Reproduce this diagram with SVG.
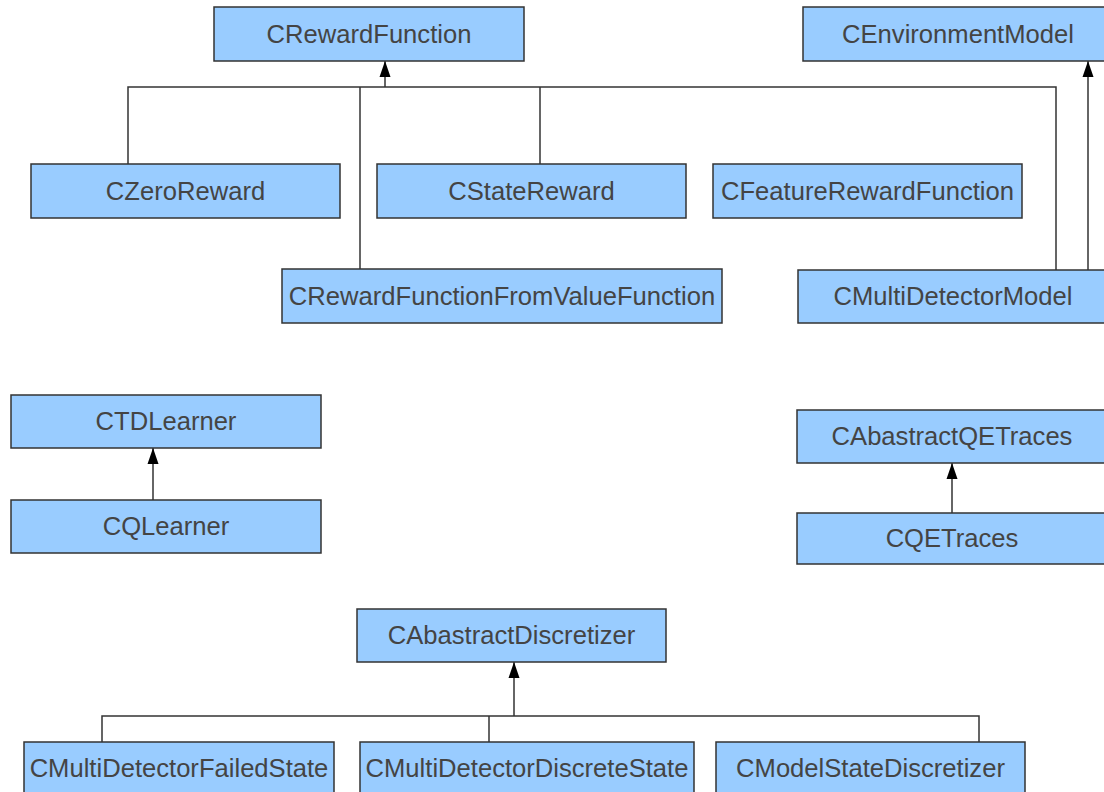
<svg xmlns="http://www.w3.org/2000/svg" width="1104" height="792" viewBox="0 0 1104 792">
  <style>
    .node rect { fill: #99ccff; stroke: #333333; stroke-width: 1.5; }
    .node text { font-family: "Liberation Sans", Arial, sans-serif; font-size: 25.6px; fill: #444444; text-anchor: middle; }
    .edge { fill: none; stroke: #333333; stroke-width: 1.5; }
    .inherit { marker-end: url(#arrow); }
  </style>
  <defs>
    <marker id="arrow" markerUnits="userSpaceOnUse" markerWidth="18" markerHeight="14" viewBox="0 -7 18 14" refX="16" refY="0" orient="auto">
      <path d="M0,-5.5 L16,0 L0,5.5 Z" fill="#000000"/>
    </marker>
  </defs>

  <rect width="1104" height="792" fill="#ffffff"/>

  <!-- inheritance connectors -->
  <g id="connectors">
    <!-- CRewardFunction subclasses -->
    <path class="edge" d="M128,164 V87 H1056 V270"/>
    <path class="edge" d="M360,269 V87"/>
    <path class="edge" d="M540,164 V87"/>
    <path class="edge inherit" d="M385,87 V61"/>
    <!-- CEnvironmentModel -->
    <path class="edge inherit" d="M1088,270 V61"/>
    <!-- CTDLearner -->
    <path class="edge inherit" d="M153,500 V448"/>
    <!-- CAbastractQETraces -->
    <path class="edge inherit" d="M952,513 V463"/>
    <!-- CAbastractDiscretizer subclasses -->
    <path class="edge" d="M102,742 V716 H979 V742"/>
    <path class="edge" d="M489,742 V716"/>
    <path class="edge inherit" d="M514,716 V662"/>
  </g>

  <g id="CRewardFunction" class="node">
    <rect x="214" y="7" width="310" height="54"/>
    <text x="369" y="43">CRewardFunction</text>
  </g>
  <g id="CEnvironmentModel" class="node">
    <rect x="803" y="7" width="310" height="54"/>
    <text x="958" y="43">CEnvironmentModel</text>
  </g>
  <g id="CZeroReward" class="node">
    <rect x="31" y="164" width="309" height="54"/>
    <text x="185.5" y="200">CZeroReward</text>
  </g>
  <g id="CStateReward" class="node">
    <rect x="377" y="164" width="309" height="54"/>
    <text x="531.5" y="200">CStateReward</text>
  </g>
  <g id="CFeatureRewardFunction" class="node">
    <rect x="713" y="164" width="309" height="54"/>
    <text x="867.5" y="200">CFeatureRewardFunction</text>
  </g>
  <g id="CRewardFunctionFromValueFunction" class="node">
    <rect x="282" y="269" width="440" height="54"/>
    <text x="502" y="305">CRewardFunctionFromValueFunction</text>
  </g>
  <g id="CMultiDetectorModel" class="node">
    <rect x="798" y="270" width="310" height="53"/>
    <text x="953" y="305">CMultiDetectorModel</text>
  </g>
  <g id="CTDLearner" class="node">
    <rect x="11" y="395" width="310" height="53"/>
    <text x="166" y="430">CTDLearner</text>
  </g>
  <g id="CQLearner" class="node">
    <rect x="11" y="500" width="310" height="53"/>
    <text x="166" y="535">CQLearner</text>
  </g>
  <g id="CAbastractQETraces" class="node">
    <rect x="797" y="410" width="310" height="53"/>
    <text x="952" y="445">CAbastractQETraces</text>
  </g>
  <g id="CQETraces" class="node">
    <rect x="797" y="513" width="310" height="51"/>
    <text x="952" y="547">CQETraces</text>
  </g>
  <g id="CAbastractDiscretizer" class="node">
    <rect x="357" y="609" width="309" height="53"/>
    <text x="511.5" y="644">CAbastractDiscretizer</text>
  </g>
  <g id="CMultiDetectorFailedState" class="node">
    <rect x="24" y="742" width="310" height="54"/>
    <text x="179" y="777">CMultiDetectorFailedState</text>
  </g>
  <g id="CMultiDetectorDiscreteState" class="node">
    <rect x="360" y="742" width="334" height="54"/>
    <text x="527" y="777">CMultiDetectorDiscreteState</text>
  </g>
  <g id="CModelStateDiscretizer" class="node">
    <rect x="716" y="742" width="309" height="54"/>
    <text x="870.5" y="777">CModelStateDiscretizer</text>
  </g>
</svg>
